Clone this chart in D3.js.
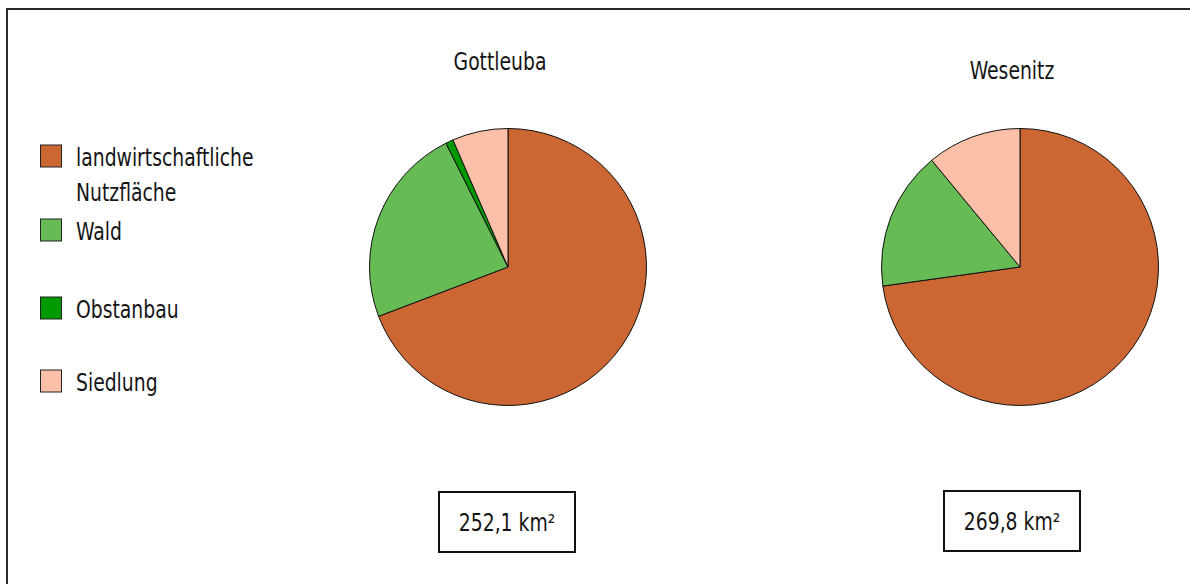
<!DOCTYPE html>
<html>
<head>
<meta charset="utf-8">
<script src="https://cdn.jsdelivr.net/npm/d3@7"></script>
<style>
  html, body { margin: 0; padding: 0; background: #fff; }
  svg { display: block; }
  text { font-family: "DejaVu Sans Condensed", "Liberation Sans Narrow", sans-serif; fill: #151515; }
</style>
</head>
<body>
<div id="chart"></div>
<script>
'use strict';

// land use shares in percent
const categories = ['landwirtschaftliche Nutzfläche', 'Wald', 'Obstanbau', 'Siedlung'];
const legendLines = [['landwirtschaftliche', 'Nutzfläche'], ['Wald'], ['Obstanbau'], ['Siedlung']];
const colors = ['#cc6633', '#66bb55', '#009900', '#fcc0a8'];
const basins = ['Gottleuba', 'Wesenitz'];
const gottleubaValues = [69.2, 23.4, 0.9, 6.5];
const wesenitzValues = [72.8, 16.2, 0, 11.0];
const areaLabels = ['252,1 km²', '269,8 km²'];

const width = 1190;
const height = 584;
const fontSize = 24;
const squeeze = 0.87;   // fake a condensed face

const svg = d3.select('#chart').append('svg')
    .attr('width', width)
    .attr('height', height);

function label(sel, x, y, txt, anchor) {
    return sel.append('text')
        .attr('transform', 'translate(' + x + ',' + y + ') scale(' + squeeze + ',1)')
        .attr('text-anchor', anchor || 'start')
        .attr('font-size', fontSize)
        .text(txt);
}

// frame, right and bottom edges run off the picture
svg.append('rect')
    .attr('x', 7)
    .attr('y', 9)
    .attr('width', width + 20)
    .attr('height', height + 20)
    .attr('fill', 'none')
    .attr('stroke', '#2a2a2a')
    .attr('stroke-width', 2);

const color = d3.scaleOrdinal().domain(categories).range(colors);

// legend
const legendY = [156, 230, 308, 381];
const legend = svg.append('g');
categories.forEach(function(c, i) {
    legend.append('rect')
        .attr('x', 40.5)
        .attr('y', legendY[i] - 11)
        .attr('width', 21)
        .attr('height', 22)
        .attr('fill', color(c))
        .attr('stroke', '#222')
        .attr('stroke-width', 1);
    legendLines[i].forEach(function(line, j) {
        label(legend, 76, legendY[i] + 10 + j * 35, line);
    });
});

const pie = d3.pie().sort(null).value(function(d) { return d; });
const radius = 138.5;
const arc = d3.arc().innerRadius(0).outerRadius(radius);

const pies = [
    {name: basins[0], values: gottleubaValues, cx: 508, cy: 267, titleX: 500, titleY: 70, box: [439, 492, 136, 60], label: areaLabels[0]},
    {name: basins[1], values: wesenitzValues, cx: 1020, cy: 267, titleX: 1012, titleY: 79, box: [944, 491, 136, 60], label: areaLabels[1]}
];

pies.forEach(function(p) {
    label(svg, p.titleX, p.titleY, p.name, 'middle');

    const g = svg.append('g').attr('transform', 'translate(' + p.cx + ',' + p.cy + ')');
    g.selectAll('path')
        .data(pie(p.values).filter(function(d) { return d.data > 0; }))
        .join('path')
        .attr('d', arc)
        .attr('fill', function(d) { return colors[d.index]; })
        .attr('stroke', '#111')
        .attr('stroke-width', 1)
        .attr('stroke-linejoin', 'round');

    svg.append('rect')
        .attr('x', p.box[0])
        .attr('y', p.box[1])
        .attr('width', p.box[2])
        .attr('height', p.box[3])
        .attr('fill', '#fff')
        .attr('stroke', '#111')
        .attr('stroke-width', 2);
    label(svg, p.box[0] + p.box[2] / 2, p.box[1] + 39, p.label, 'middle');
});
</script>
</body>
</html>
